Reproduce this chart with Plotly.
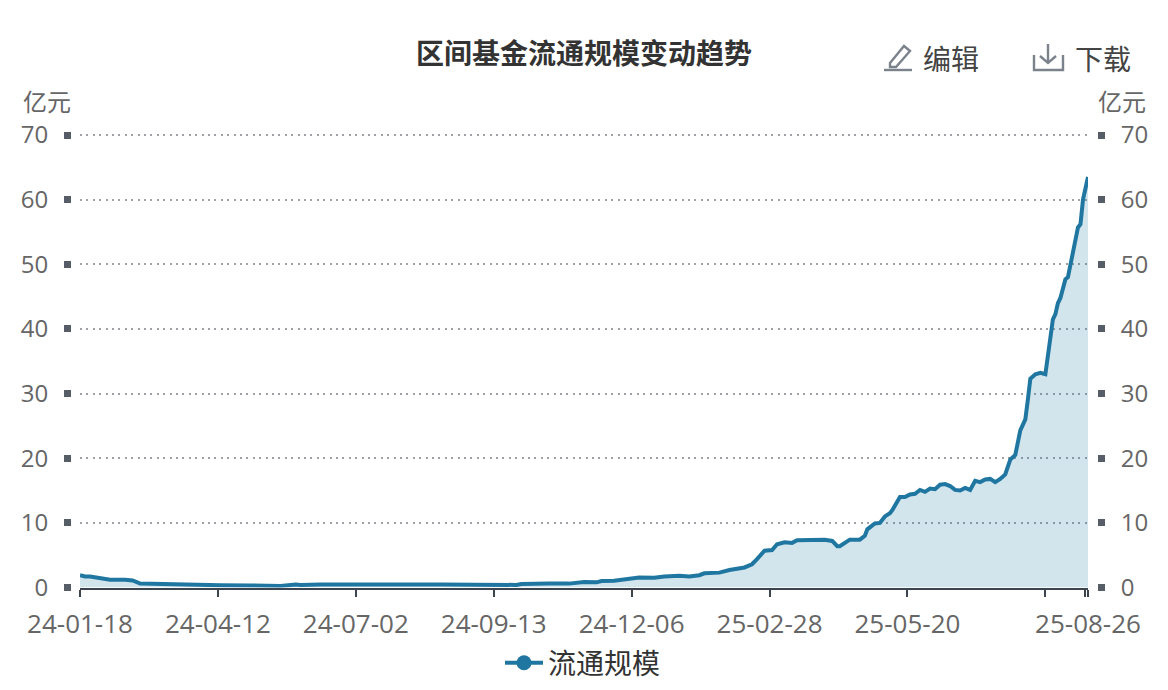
import plotly.graph_objects as go

title = "区间基金流通规模变动趋势"
series_name = "流通规模"
unit = "亿元"
edit_label = "编辑"
download_label = "下载"

day_index = [0,2,4,8,12,18,21,24,28,36,44,56,68,80,86,88,96,108,120,132,144,156,174,176,183,187,195,201,206,208,213,219,223,229,233,239,243,247,249,255,259,265,268,270,273,276,278,281,284,286,293,297,300,302,303,307,311,313,314,317,319,321,323,324,327,329,331,333,335,337,339,341,343,345,347,349,351,353,355,357,359,361,363,365,367,369,371,373,375,377,378,379,381,383,385,386,388,389,390,391,393,394,396,398,399,400,402]
scale_values = [1.9,1.7,1.7,1.4,1.2,1.2,1.1,0.6,0.55,0.45,0.4,0.35,0.3,0.25,0.45,0.4,0.45,0.5,0.45,0.45,0.45,0.4,0.4,0.55,0.5,0.6,0.6,0.85,0.8,1.0,1.05,1.3,1.55,1.5,1.7,1.8,1.7,1.9,2.2,2.3,2.7,3.1,3.6,4.4,5.7,5.8,6.7,7.0,6.9,7.3,7.3,7.4,7.2,6.4,6.4,7.4,7.4,8.0,9.0,9.9,10.0,11.0,11.5,12.0,14.0,14.0,14.4,14.5,15.1,14.8,15.3,15.2,15.9,16.0,15.7,15.1,15.0,15.4,15.1,16.5,16.3,16.7,16.8,16.3,16.8,17.5,19.8,20.5,24.3,26.0,29.0,32.3,33.0,33.2,33.0,36.0,41.5,42.3,44.0,44.8,47.7,48.0,52.0,55.7,56.2,60.0,63.5]

x_tick_index = [0,55,110,165,220,275,330,385,401,402]
x_tick_text = ["24-01-18","24-04-12","24-07-02","24-09-13","24-12-06","25-02-28","25-05-20","","","25-08-26"]
y_ticks = [0,10,20,30,40,50,60,70]

W, H = 1168, 690
ML, MR, MT, MB = 60, 50, 40, 60
FONT = "Open Sans, Noto Sans CJK SC, sans-serif"
LINE = "#1f77a1"
GREY = "#666666"
ICON = "#7b828c"

def px(x): return (x - ML) / (W - ML - MR)
def py(y): return 1 - (y - MT) / (H - MT - MB)
def path(pts, close=False):
    s = "M" + " L".join(f"{px(a):.5f},{py(b):.5f}" for a, b in pts)
    return s + (" Z" if close else "")

fig = go.Figure()
fig.add_trace(go.Scatter(x=day_index, y=scale_values, mode="lines", showlegend=False,
                         line=dict(color=LINE, width=4), fill="tozeroy",
                         fillcolor="rgba(31,119,161,0.2)", hoverinfo="skip"))
fig.add_trace(go.Scatter(x=[None], y=[None], yaxis="y2", mode="lines+markers", name=series_name,
                         line=dict(color=LINE, width=4), marker=dict(color=LINE, size=15)))

shapes = []
for d in (
    path([(884,70),(912,70)]),
    path([(890,63),(904,46),(910,51),(896,67),(890,67)], True),
    path([(1034,55),(1034,70),(1063,70),(1063,55)]),
    path([(1048,44),(1048,63)]),
    path([(1040,56),(1048,63),(1056,56)]),
):
    shapes.append(dict(type="path", xref="paper", yref="paper", path=d, line=dict(color=ICON, width=2.4)))

def ann(text, x, y, size, color, bold=False):
    return dict(text=f"<b>{text}</b>" if bold else text, x=px(x), y=py(y), xref="paper", yref="paper",
                showarrow=False, font=dict(size=size, color=color, family=FONT), xanchor="center", yanchor="middle")

common_y = dict(range=[0, 70.3], domain=[py(587.5), py(133.1)], tickvals=y_ticks, anchor="free",
                ticks="outside", ticklen=7, tickwidth=7, tickcolor="#565d67", showline=False, zeroline=False,
                automargin=False,
                tickfont=dict(size=24, color=GREY, family=FONT), ticklabelstandoff=11)

fig.update_layout(
    width=W, height=H, autosize=False, margin=dict(l=ML, r=MR, t=MT, b=MB),
    plot_bgcolor="white", paper_bgcolor="white", hovermode=False,
    xaxis=dict(domain=[px(80), px(1088)], range=[0, 402], tickvals=x_tick_index, ticktext=x_tick_text,
               tickmode="array", ticks="outside", ticklen=7, tickwidth=2.2, tickcolor="#3c4450",
               showline=True, linecolor="#3c4450", linewidth=2.4, showgrid=False, zeroline=False,
               automargin=False, ticklabelstandoff=5,
               tickangle=0, tickfont=dict(size=26, color=GREY, family=FONT)),
    yaxis=dict(**common_y, position=px(71), side="left", showgrid=True, gridcolor="#a0a0a6",
               griddash="2px,4.4px", gridwidth=2),
    yaxis2=dict(**common_y, position=px(1097), side="right", overlaying="y", showgrid=False),
    legend=dict(orientation="h", xref="container", yref="container", x=583/W, xanchor="center",
                y=1 - 663/H, yanchor="middle", itemwidth=38,
                font=dict(size=28, color="#333333", family=FONT), bgcolor="rgba(0,0,0,0)"),
    shapes=shapes,
    annotations=[
        ann(title, 584, 53, 28, "#333333", True),
        ann(edit_label, 951, 59, 28, "#444444"),
        ann(download_label, 1103, 59, 28, "#444444"),
        ann(unit, 47, 101, 24, GREY),
        ann(unit, 1122, 101, 24, GREY),
    ],
)
fig.write_html("out.html", config=dict(displayModeBar=False), post_script="document.body.style.margin='0';")
